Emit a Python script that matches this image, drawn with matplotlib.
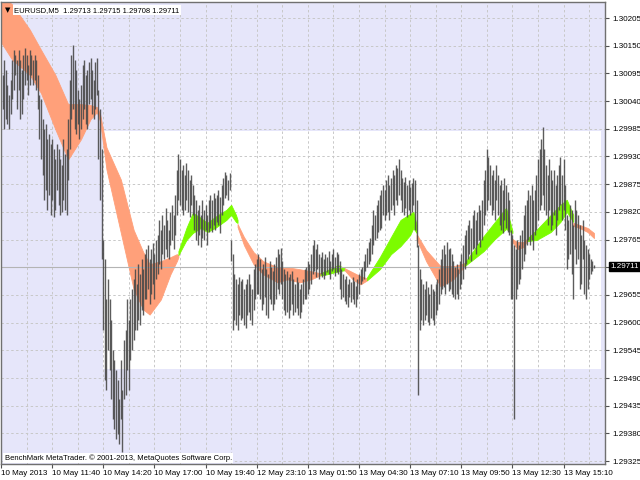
import numpy as np
import matplotlib
matplotlib.use('Agg')
import matplotlib.pyplot as plt
from matplotlib.patches import Rectangle
import matplotlib.transforms as mtransforms

# prices are stored as points above 1.29000
base = 1.29

highs = [1092,1122,1102,1072,1052,1082,1122,1142,1132,1122,
         1142,1122,1102,1132,1146,1132,1112,1142,1132,1122,
         1132,1122,1092,1052,1044,1004,984,994,964,974,
         954,964,944,924,954,944,924,914,964,934,
         944,1004,1082,1132,1152,1122,1102,1062,1044,1072,
         1112,1122,1092,1102,1118,1126,1102,1082,1118,1126,
         1062,1024,944,764,726,646,686,646,606,546,
         526,506,486,448,526,466,566,586,646,606,
         646,666,686,706,676,716,696,726,706,736,
         746,754,726,746,758,736,764,774,804,784,
         814,794,828,804,784,820,834,814,854,904,
         934,924,904,914,894,918,904,884,894,874,
         854,844,824,834,814,844,824,834,814,844,
         854,844,858,848,854,864,850,874,888,900,
         894,884,898,764,736,696,686,676,690,682,
         686,666,676,686,696,676,666,706,716,726,
         736,726,706,716,730,706,696,722,710,702,
         716,730,746,736,748,722,706,696,702,690,
         696,702,686,676,690,680,666,676,686,706,
         710,722,716,736,754,764,746,756,736,730,
         740,726,736,730,742,722,736,746,730,740,
         736,722,706,696,686,692,676,686,680,690,
         682,672,686,696,706,710,722,736,748,760,
         768,794,824,814,834,844,854,864,874,864,
         884,894,874,888,904,894,914,908,924,904,
         888,880,890,874,884,870,878,888,884,844,
         754,706,686,676,666,682,670,656,676,666,
         662,676,686,706,726,746,754,736,760,746,
         748,736,722,710,716,706,722,736,754,774,
         784,794,804,788,814,824,804,820,834,824,
         844,884,904,944,928,914,894,904,884,914,
         894,874,884,864,888,874,860,844,784,774,
         754,746,764,754,774,784,814,834,844,864,
         854,874,844,864,894,924,944,964,988,944,
         914,894,924,904,884,904,874,894,914,928,
         894,924,874,814,804,834,824,794,844,824,
         814,794,774,804,764,754,746,736,726,722,715]

lows = [1024,984,1004,994,984,1014,1044,1062,1092,1024,
        1062,1004,1014,1044,1072,1082,1052,1072,1092,1072,
        1082,1062,1024,964,924,894,844,864,824,854,
        814,844,810,824,864,834,814,820,844,824,
        814,884,944,1004,1024,984,974,994,964,984,
        1004,1024,994,984,1034,1044,1014,1004,1024,1052,
        924,844,726,586,486,466,546,506,448,408,
        388,368,378,358,408,344,448,456,506,466,
        526,546,566,586,586,606,596,626,616,646,
        646,666,636,656,676,646,686,696,716,706,
        736,726,746,730,726,754,764,746,774,814,
        844,834,824,814,824,844,820,810,834,814,
        784,764,754,774,750,768,764,784,754,780,
        788,780,794,784,800,794,778,814,834,848,
        854,844,864,722,586,606,596,586,616,606,
        610,596,590,616,622,606,596,626,646,656,
        656,646,626,636,650,616,610,646,636,626,
        636,646,666,656,676,646,626,616,622,610,
        626,636,616,622,630,616,610,622,636,646,
        646,656,666,676,696,702,690,706,686,696,
        690,686,694,700,696,686,702,706,692,700,
        696,666,646,650,642,636,632,650,640,646,
        636,632,646,656,676,682,686,702,710,716,
        722,736,754,764,768,780,784,788,814,804,
        814,820,804,824,834,814,844,834,854,844,
        820,814,828,810,824,814,820,834,784,750,
        456,586,606,596,606,616,602,596,610,606,
        596,616,626,636,656,666,670,656,676,662,
        666,656,650,646,656,646,666,676,686,706,
        716,726,736,722,746,748,736,754,764,750,
        764,794,814,824,844,834,814,824,804,844,
        814,794,784,778,804,788,780,774,646,646,
        408,646,666,676,686,706,722,736,754,764,
        754,764,744,774,784,804,824,834,854,824,
        814,794,824,784,794,814,774,804,824,834,
        804,824,784,706,726,736,696,646,746,716,
        726,666,676,726,656,646,666,686,696,702,708]

# moving-average ribbon: bar index, upper edge, lower edge (points)
ob1_x = [-2, 6, 17, 24, 33, 41, 49, 55, 59, 61, 65, 74, 82, 88, 92, 99, 105, 109, 110]
ob1_up = [1252, 1232, 1182, 1142, 1092, 1034, 1034, 1032, 1028, 1014, 948, 884, 784, 740, 716, 722, 730, 736, 734]
ob1_lo = [1162, 1122, 1092, 1056, 984, 924, 964, 1004, 1018, 1000, 904, 778, 666, 626, 616, 646, 696, 722, 730]
gb1_x = [110, 115, 119, 124, 128, 133, 140, 143, 146, 147]
gb1_up = [742, 788, 818, 808, 798, 810, 824, 834, 814, 804]
gb1_lo = [734, 764, 778, 788, 780, 788, 804, 814, 800, 798]
ob2_x = [147, 151, 157, 163, 172, 178, 186, 193, 199]
ob2_up = [796, 770, 740, 722, 710, 710, 706, 702, 698]
ob2_lo = [790, 754, 716, 696, 680, 686, 680, 686, 694]
gb2_x = [199, 203, 210, 214]
gb2_up = [698, 704, 714, 708]
gb2_lo = [694, 696, 702, 704]
ob3_x = [214, 219, 224, 228]
ob3_up = [708, 700, 692, 688]
ob3_lo = [704, 686, 676, 684]
gb3_x = [228, 236, 243, 249, 255, 257, 259]
gb3_up = [690, 730, 770, 804, 816, 820, 794]
gb3_lo = [684, 706, 736, 752, 774, 788, 778]
ob4_x = [259, 265, 274, 282, 289]
ob4_up = [776, 744, 712, 712, 718]
ob4_lo = [766, 722, 672, 686, 712]
gb4_x = [289, 301, 308, 315, 318, 319]
gb4_up = [718, 772, 800, 828, 794, 782]
gb4_lo = [712, 742, 766, 786, 780, 778]
ob5_x = [319, 322, 326, 328]
ob5_up = [766, 760, 760, 766]
ob5_lo = [760, 746, 750, 762]
gb5_x = [328, 334, 343, 349, 353, 357]
gb5_up = [766, 784, 814, 834, 844, 814]
gb5_lo = [762, 764, 780, 800, 820, 800]
ob6_x = [357, 361, 366, 370]
ob6_up = [798, 794, 788, 778]
ob6_lo = [792, 788, 780, 768]

price_ticks = [1.30205, 1.30150, 1.30095, 1.30040, 1.29985, 1.29930, 1.29875, 1.29820,
               1.29765, 1.29710, 1.29655, 1.29600, 1.29545, 1.29490, 1.29435, 1.29380, 1.29325]
date_labels = ['10 May 2013', '10 May 11:40', '10 May 14:20', '10 May 17:00', '10 May 19:40',
               '12 May 23:10', '13 May 01:50', '13 May 04:30', '13 May 07:10', '13 May 09:50',
               '13 May 12:30', '13 May 15:10']
last_price = 1.29711
zone_top, zone_bottom = 1.29981, 1.29508
zone_start = 63

def pr(v):
    return base + np.asarray(v) / 100000.0

FONT = 'Liberation Sans'
ORANGE = '#FFA07A'
GREEN = '#7CFC00'

fig = plt.figure(figsize=(6.4, 4.8), dpi=100)
fig.patch.set_facecolor('white')
ax = fig.add_axes([1/640, 16/480, 604/640, 462/480])
ax.set_facecolor('#E6E6FA')
ax.set_xlim(-0.6, 376.9)
ax.set_ylim(1.293192, 1.302368)

ax.add_patch(Rectangle((zone_start, zone_bottom), 400, zone_top - zone_bottom,
                       facecolor='white', edgecolor='none', zorder=0))
ax.add_patch(Rectangle((374.4, zone_bottom), 10, zone_top - zone_bottom,
                       facecolor='#E6E6FA', edgecolor='none', zorder=0.1))

# grid
for p in price_ticks:
    ax.axhline(p, color='#C8C8C8', lw=0.7, ls=(0, (2.5, 2.5)), zorder=0.5)
for k in range(24):
    ax.axvline(-1 + 16 * k, color='#C8C8C8', lw=0.7, ls=(0, (2.5, 2.5)), zorder=0.5)

# ribbon
segs = [(ob1_x, ob1_up, ob1_lo, ORANGE), (gb1_x, gb1_up, gb1_lo, GREEN),
        (ob2_x, ob2_up, ob2_lo, ORANGE), (gb2_x, gb2_up, gb2_lo, GREEN),
        (ob3_x, ob3_up, ob3_lo, ORANGE), (gb3_x, gb3_up, gb3_lo, GREEN),
        (ob4_x, ob4_up, ob4_lo, ORANGE), (gb4_x, gb4_up, gb4_lo, GREEN),
        (ob5_x, ob5_up, ob5_lo, ORANGE), (gb5_x, gb5_up, gb5_lo, GREEN),
        (ob6_x, ob6_up, ob6_lo, ORANGE)]
for sx, su, sl, c in segs:
    ax.fill_between(sx, pr(sl), pr(su), color=c, lw=0.6, edgecolor=c, zorder=1)

# current price line
ax.axhline(last_price, color='#B4B4B4', lw=0.8, zorder=1.5)

# bars
n = min(len(highs), len(lows))
bx = np.arange(n)
ax.vlines(bx, pr(lows[:n]), pr(highs[:n]), colors='#4a4a4a', lw=1.0, alpha=0.9, zorder=2)

# axes styling
for s in ax.spines.values():
    s.set_color('#707070')
    s.set_linewidth(1.0)
ax.yaxis.tick_right()
ax.set_yticks(price_ticks)
ax.set_yticklabels(['' if abs(p - 1.29710) < 1e-7 else '%.5f' % p for p in price_ticks],
                   fontsize=5.8, family=FONT)
ax.tick_params(axis='y', length=3, width=0.8, color='#505050', pad=2)
ax.set_xticks([-1 + 32 * k for k in range(len(date_labels))])
ax.set_xticklabels(date_labels, fontsize=5.8, family=FONT)
ax.tick_params(axis='x', length=3, width=0.8, color='#505050', pad=1.5)
for lbl in ax.get_xticklabels():
    lbl.set_horizontalalignment('left')

trans = mtransforms.blended_transform_factory(ax.transAxes, ax.transData)
ax.text(1.009, last_price, '%.5f' % last_price, transform=trans, fontsize=5.8, family=FONT,
        color='white', va='center', ha='left',
        bbox=dict(boxstyle='square,pad=0.15', facecolor='black', edgecolor='black'))

ax.text(0.006, 0.988, '\u25bc', transform=ax.transAxes, fontsize=5, va='top', ha='left', color='black')
ax.text(0.022, 0.99, 'EURUSD,M5  1.29713 1.29715 1.29708 1.29711', transform=ax.transAxes,
        fontsize=5.5, family=FONT, va='top', ha='left', color='black',
        bbox=dict(boxstyle='square,pad=0.2', facecolor='white', edgecolor='none'))
ax.text(0.006, 0.004, 'BenchMark MetaTrader. \u00a9 2001-2013, MetaQuotes Software Corp.',
        transform=ax.transAxes, fontsize=5.5, family=FONT, va='bottom', ha='left', color='black',
        bbox=dict(boxstyle='square,pad=0.15', facecolor='white', edgecolor='none'))

fig.savefig('out.png', dpi=100)
